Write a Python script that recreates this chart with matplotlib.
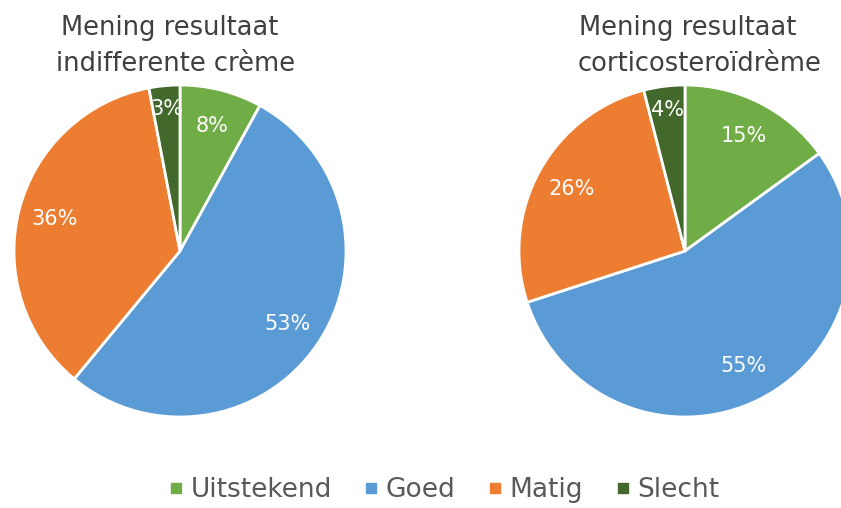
import matplotlib.pyplot as plt
from matplotlib.lines import Line2D

categories = ["Uitstekend", "Goed", "Matig", "Slecht"]
colors = ["#70AD47", "#5B9BD5", "#ED7D31", "#43682B"]
indifferent = [8, 53, 36, 3]
corticosteroid = [15, 55, 26, 4]
titles = [("Mening resultaat", "indifferente crème"),
          ("Mening resultaat", "corticosteroïdrème")]

plt.rcParams['font.family'] = ['DejaVu Sans']
W, H = 841, 508
fig = plt.figure(figsize=(W / 100, H / 100), dpi=100)

def px_axes(cx, cy, r):
    return fig.add_axes([(cx - r) / W, (H - cy - r) / H, 2 * r / W, 2 * r / H])

# pie centre x, centre y, values, title lines, title line x-centres (pixels)
pies = [(180, 251, indifferent, titles[0], (170, 176)),
        (685, 251, corticosteroid, titles[1], (688, 700))]

for cx, cy, vals, title, tx in pies:
    ax = px_axes(cx, cy, 166)
    wedges, texts, autotexts = ax.pie(
        vals, colors=colors, startangle=90, counterclock=False,
        autopct=lambda p: f"{p:.0f}%", pctdistance=0.78,
        wedgeprops=dict(edgecolor="white", linewidth=2),
        textprops=dict(color="white", fontsize=15))
    # small slice label sits a bit further out, as in the original
    autotexts[3].set_position((autotexts[3].get_position()[0] * 1.1,
                               autotexts[3].get_position()[1] * 1.1))
    ax.set_xlim(-1, 1)
    ax.set_ylim(-1, 1)
    ax.set_aspect("equal")
    ax.axis("off")
    for line, x, y in zip(title, tx, (35, 71)):
        fig.text(x / W, 1 - y / H, line, ha="center", va="baseline",
                 fontsize=18.5, color="#404040")

handles = [Line2D([], [], marker="s", linestyle="none", markersize=7.5,
                  markerfacecolor=c, markeredgecolor=c) for c in colors]
fig.legend(handles, categories, loc="center", bbox_to_anchor=(441 / W, 1 - 490 / H),
           ncol=4, frameon=False, fontsize=19, labelcolor="#595959",
           handletextpad=0.05, columnspacing=1.0, handlelength=1.0)

fig.savefig("out.png", dpi=100)
